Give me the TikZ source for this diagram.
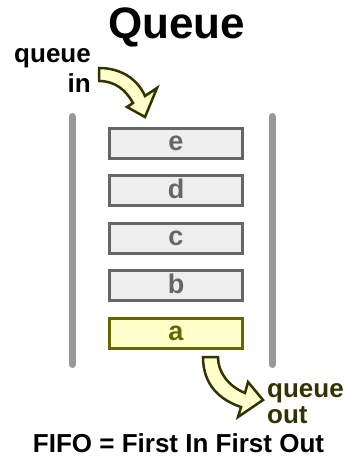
\documentclass[tikz,border=0pt]{standalone}
\usepackage{fontspec}
\setmainfont{Liberation Sans}
\usepackage{xcolor}
\usepackage{tikz}
\definecolor{qbar}{HTML}{999999}
\definecolor{qedge}{HTML}{666666}
\definecolor{qfill}{HTML}{EEEEEE}
\definecolor{qhead}{HTML}{666600}
\definecolor{qlight}{HTML}{FFFFCC}
\definecolor{qdark}{HTML}{333300}

\begin{document}
\begin{tikzpicture}[x=1pt, y=-1pt,
  cell/.style ={rectangle, draw=qedge, fill=qfill, line width=3pt, minimum width=133pt,
                minimum height=30pt, inner sep=0pt, text height=15pt, text depth=0pt,
                font=\fontsize{27}{30}\selectfont\bfseries, text=qedge},
  frontCell/.style ={cell, draw=qhead, fill=qlight, text=qhead},
  wall/.style ={line width=7pt, color=qbar, line cap=round},
  bigArrow/.style ={draw=qdark, fill=qlight, line width=2.5pt},
  lbl/.style ={inner sep=0pt, font=\fontsize{26}{29}\selectfont\bfseries},
]
% canvas in pixel-like units, y grows downwards
\useasboundingbox (0,0) rectangle (344,460);
\def\cx{176}
\def\rowH{47.5}
\node[inner sep=0pt, anchor=base, font=\fontsize{44}{50}\selectfont\bfseries] (title) at (176.5,38) {Queue};
% side walls of the queue
\draw[wall] (72,116.5) -- (72,364.5);
\draw[wall] (272,116.5) -- (272,364.5);
% waiting elements, back to front
\foreach \i/\name in {0/e,1/d,2/c,3/b} {
  \node[cell] (box-\name) at (\cx,143+\rowH*\i) {\name};
}
\node[frontCell] (box-a) at (\cx,143+\rowH*4) {a};
% enqueue (base anchor sits on the last line)
\node[lbl, anchor=base east, align=right] (qin) at (91,92) {queue\\in};
\draw[bigArrow] (99,68) .. controls (122,68) and (138,80) .. (145,96) -- (157,88) -- (145,117)
  -- (127,107) -- (133,103) .. controls (126,90) and (115,81) .. (99,81) -- cycle;
% dequeue
\node[lbl, anchor=base west, align=left, text=qdark, font=\fontsize{26}{26}\selectfont\bfseries] (qout) at (267,423) {queue\\out};
\draw[bigArrow] (203,357) -- (218,357) .. controls (218,372) and (228,386) .. (245,393) -- (248,382)
  -- (263,400) -- (238,417) -- (241,407) .. controls (220,400) and (203,385) .. (203,357) -- cycle;
\node[lbl, anchor=base] (fifo) at (178.5,452) {FIFO = First In First Out};
\end{tikzpicture}
\end{document}
